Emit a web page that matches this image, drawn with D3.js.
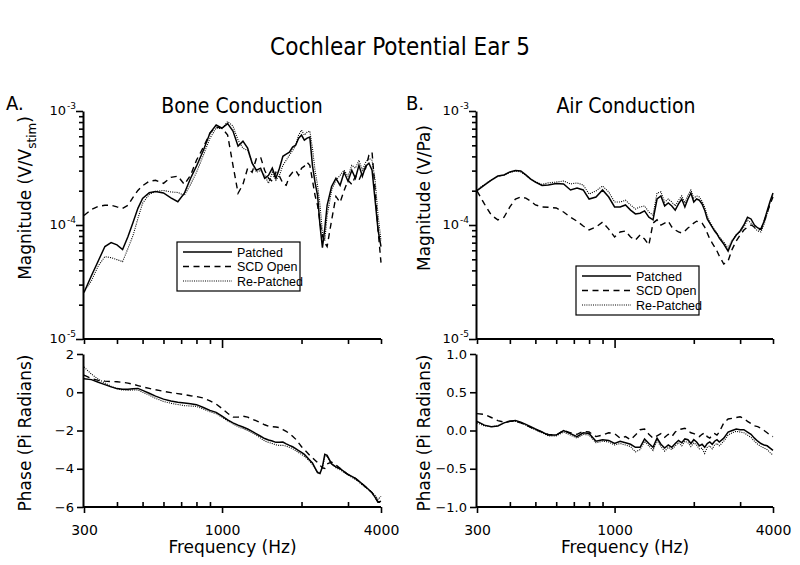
<!DOCTYPE html>
<html>
<head>
<meta charset="utf-8">
<script src="https://cdn.jsdelivr.net/npm/d3@7"></script>
<style>
  body { margin: 0; background: #fff; }
  svg { display: block; }
  .tick-lbl { font-family: "DejaVu Sans", sans-serif; font-size: 13px; fill: #000; }
  .ax-title { font-family: "DejaVu Sans", sans-serif; font-size: 17px; fill: #000; }
  .head { font-family: "Liberation Sans Narrow", "DejaVu Sans Condensed", sans-serif; fill: #000; }
  .leg { font-family: "Liberation Sans", sans-serif; font-size: 12.5px; fill: #000; }
</style>
</head>
<body>
<svg id="chart" width="800" height="565"></svg>
<script>
// frequency grid (Hz), shared by every series
const freqs = [300, 320, 340, 360, 380, 400, 420, 440, 460, 480, 500, 530, 560, 600, 640, 680, 720, 760, 800, 850,
  900, 950, 1000, 1050, 1100, 1150, 1200, 1250, 1300, 1350, 1400, 1450, 1500, 1550, 1600, 1650, 1700, 1750, 1800, 1850,
  1900, 1950, 2000, 2050, 2100, 2150, 2200, 2250, 2300, 2350, 2400, 2450, 2500, 2600, 2700, 2800, 2900, 3000, 3100, 3200,
  3300, 3400, 3500, 3600, 3700, 3800, 3900, 4000];

// A. bone conduction, magnitude (V/Vstim)
const bonePatchedMag = [2.56e-5, 3.59e-5, 4.86e-5, 6.47e-5, 7.0e-5, 6.7e-5, 6.1e-5, 7.9e-5, 1.05e-4, 1.40e-4, 1.71e-4, 1.92e-4, 1.97e-4, 1.91e-4, 1.73e-4, 1.60e-4, 1.90e-4, 2.57e-4, 3.28e-4, 4.53e-4,
  6.40e-4, 7.53e-4, 7.08e-4, 7.76e-4, 6.67e-4, 4.92e-4, 5.44e-4, 4.72e-4, 3.48e-4, 3.02e-4, 3.15e-4, 2.57e-4, 2.73e-4, 3.15e-4, 2.57e-4, 3.15e-4, 4.01e-4, 4.18e-4, 4.35e-4, 4.82e-4,
  5.01e-4, 5.78e-4, 6.15e-4, 5.55e-4, 5.78e-4, 5.9e-4, 3.34e-4, 2.37e-4, 1.82e-4, 9.9e-5, 6.34e-5, 9.3e-5, 1.49e-4, 2.18e-4, 2.57e-4, 2.23e-4, 2.9e-4, 2.42e-4, 3.02e-4, 2.57e-4,
  3.34e-4, 2.68e-4, 3.28e-4, 3.48e-4, 3.02e-4, 1.64e-4, 8.95e-5, 6.47e-5];
const boneOpenMag = [1.21e-4, 1.37e-4, 1.46e-4, 1.49e-4, 1.49e-4, 1.44e-4, 1.40e-4, 1.49e-4, 1.75e-4, 2.01e-4, 2.21e-4, 2.42e-4, 2.47e-4, 2.32e-4, 2.62e-4, 2.68e-4, 2.27e-4, 2.73e-4, 3.70e-4, 4.82e-4,
  6.4e-4, 7.23e-4, 7.08e-4, 6.15e-4, 3.34e-4, 1.90e-4, 2.27e-4, 3.15e-4, 2.9e-4, 3.85e-4, 3.93e-4, 3.02e-4, 2.57e-4, 2.42e-4, 2.9e-4, 2.68e-4, 2.32e-4, 2.23e-4, 2.68e-4, 2.9e-4,
  3.02e-4, 2.73e-4, 3.15e-4, 3.28e-4, 3.55e-4, 3.34e-4, 2.47e-4, 1.82e-4, 1.49e-4, 1.05e-4, 8.08e-5, 7.0e-5, 6.47e-5, 1.10e-4, 1.78e-4, 1.58e-4, 2.01e-4, 2.47e-4, 2.27e-4, 2.68e-4,
  2.47e-4, 2.9e-4, 3.15e-4, 4.1e-4, 4.35e-4, 2.01e-4, 8.95e-5, 4.68e-5];
const boneRepatchedMag = [2.6e-5, 3.24e-5, 4.4e-5, 5.28e-5, 5.17e-5, 4.97e-5, 4.77e-5, 6.21e-5, 8.08e-5, 1.14e-4, 1.55e-4, 1.86e-4, 1.97e-4, 2.01e-4, 1.95e-4, 1.93e-4, 1.82e-4, 2.27e-4, 2.9e-4, 4.1e-4,
  5.78e-4, 7.08e-4, 7.0e-4, 8.08e-4, 7.38e-4, 5.55e-4, 4.72e-4, 4.5e-4, 3.55e-4, 2.9e-4, 3.02e-4, 2.73e-4, 2.32e-4, 2.9e-4, 2.47e-4, 2.73e-4, 3.34e-4, 3.7e-4, 4.1e-4, 4.5e-4,
  5.0e-4, 6.15e-4, 6.8e-4, 6.15e-4, 6.53e-4, 6.67e-4, 4.72e-4, 3.02e-4, 2.23e-4, 1.49e-4, 8.59e-5, 7.3e-5, 1.21e-4, 2.01e-4, 2.47e-4, 2.73e-4, 3.02e-4, 2.68e-4, 3.34e-4, 3.15e-4,
  3.7e-4, 3.02e-4, 3.55e-4, 3.85e-4, 3.7e-4, 2.47e-4, 1.21e-4, 7.3e-5];

// A. bone conduction, phase (pi radians)
const bonePatchedPh = [0.70, 0.66, 0.52, 0.40, 0.28, 0.19, 0.16, 0.16, 0.18, 0.20, 0.10, -0.05, -0.20, -0.36, -0.46, -0.52, -0.56, -0.60, -0.65, -0.80,
  -0.95, -1.05, -1.25, -1.45, -1.60, -1.72, -1.82, -1.92, -2.05, -2.18, -2.30, -2.42, -2.50, -2.55, -2.62, -2.62, -2.60, -2.70, -2.78, -2.85,
  -2.95, -3.05, -3.15, -3.25, -3.40, -3.55, -3.70, -3.95, -4.20, -4.25, -3.90, -3.25, -3.30, -3.75, -3.90, -4.00, -4.15, -4.30, -4.40, -4.50,
  -4.65, -4.80, -4.95, -5.10, -5.25, -5.50, -5.75, -5.70];
const boneOpenPh = [0.90, 0.72, 0.62, 0.58, 0.56, 0.55, 0.52, 0.48, 0.42, 0.35, 0.28, 0.20, 0.13, 0.05, -0.02, -0.07, -0.12, -0.18, -0.22, -0.30,
  -0.45, -0.62, -0.85, -1.10, -1.30, -1.30, -1.25, -1.30, -1.40, -1.50, -1.60, -1.70, -1.78, -1.80, -1.82, -1.85, -1.95, -2.05, -2.15, -2.30,
  -2.45, -2.65, -2.85, -3.00, -3.15, -3.30, -3.42, -3.55, -3.68, -3.82, -3.95, -3.98, -3.75, -3.65, -3.80, -3.98, -4.15, -4.30, -4.40, -4.50,
  -4.65, -4.80, -4.95, -5.10, -5.25, -5.50, -5.75, -5.75];
const boneRepatchedPh = [1.32, 0.95, 0.68, 0.48, 0.32, 0.18, 0.12, 0.10, 0.12, 0.12, 0.00, -0.15, -0.32, -0.48, -0.58, -0.64, -0.70, -0.72, -0.74, -0.88,
  -1.02, -1.12, -1.30, -1.50, -1.65, -1.80, -1.90, -2.00, -2.12, -2.25, -2.40, -2.55, -2.62, -2.68, -2.75, -2.78, -2.78, -2.82, -2.88, -2.95,
  -3.05, -3.15, -3.25, -3.35, -3.48, -3.62, -3.78, -4.00, -4.18, -4.20, -3.95, -3.35, -3.35, -3.75, -3.95, -4.05, -4.20, -4.32, -4.45, -4.55,
  -4.70, -4.85, -4.98, -5.12, -5.25, -5.40, -5.60, -5.45];

// B. air conduction, magnitude (V/Pa)
const airPatchedMag = [2.0e-4, 2.24e-4, 2.48e-4, 2.69e-4, 2.75e-4, 2.92e-4, 3.01e-4, 2.98e-4, 2.75e-4, 2.53e-4, 2.38e-4, 2.22e-4, 2.24e-4, 2.31e-4, 2.29e-4, 2.03e-4, 2.11e-4, 2.03e-4, 1.69e-4, 1.76e-4,
  2.03e-4, 1.76e-4, 1.44e-4, 1.44e-4, 1.50e-4, 1.35e-4, 1.25e-4, 1.27e-4, 1.33e-4, 1.17e-4, 1.11e-4, 1.69e-4, 1.80e-4, 1.47e-4, 1.56e-4, 1.47e-4, 1.35e-4, 1.53e-4, 1.69e-4, 1.44e-4,
  1.69e-4, 1.91e-4, 1.59e-4, 1.69e-4, 1.65e-4, 1.53e-4, 1.35e-4, 1.13e-4, 1.04e-4, 9.6e-5, 8.86e-5, 8.34e-5, 7.69e-5, 6.81e-5, 5.91e-5, 7.24e-5, 8.17e-5, 8.86e-5, 1.0e-4, 1.17e-4,
  1.13e-4, 1.0e-4, 9.42e-5, 9.2e-5, 1.08e-4, 1.33e-4, 1.62e-4, 1.91e-4];
const airOpenMag = [1.99e-4, 1.53e-4, 1.22e-4, 1.11e-4, 1.17e-4, 1.44e-4, 1.69e-4, 1.76e-4, 1.72e-4, 1.62e-4, 1.50e-4, 1.44e-4, 1.43e-4, 1.41e-4, 1.30e-4, 1.17e-4, 1.08e-4, 9.8e-5, 9.04e-5, 9.6e-5,
  1.06e-4, 9.2e-5, 7.85e-5, 8.69e-5, 8.86e-5, 7.85e-5, 7.38e-5, 8.17e-5, 7.53e-5, 6.68e-5, 1.04e-4, 1.11e-4, 1.0e-4, 1.04e-4, 1.08e-4, 9.6e-5, 9.04e-5, 8.69e-5, 8.51e-5, 8.86e-5,
  9.42e-5, 9.8e-5, 1.04e-4, 1.08e-4, 1.06e-4, 1.04e-4, 9.6e-5, 8.51e-5, 7.53e-5, 6.95e-5, 6.41e-5, 5.91e-5, 5.35e-5, 4.55e-5, 4.83e-5, 6.15e-5, 7.24e-5, 8.17e-5, 9.04e-5, 9.6e-5,
  1.0e-4, 9.6e-5, 9.04e-5, 9.2e-5, 1.08e-4, 1.27e-4, 1.53e-4, 1.76e-4];
const airRepatchedMag = [2.03e-4, 2.27e-4, 2.48e-4, 2.66e-4, 2.75e-4, 2.89e-4, 2.98e-4, 2.92e-4, 2.72e-4, 2.53e-4, 2.41e-4, 2.27e-4, 2.34e-4, 2.38e-4, 2.43e-4, 2.29e-4, 2.34e-4, 2.24e-4, 1.87e-4, 1.99e-4,
  2.2e-4, 1.95e-4, 1.59e-4, 1.59e-4, 1.65e-4, 1.50e-4, 1.38e-4, 1.44e-4, 1.47e-4, 1.30e-4, 1.22e-4, 1.91e-4, 1.95e-4, 1.59e-4, 1.69e-4, 1.59e-4, 1.47e-4, 1.65e-4, 1.80e-4, 1.56e-4,
  1.83e-4, 2.03e-4, 1.72e-4, 1.80e-4, 1.76e-4, 1.62e-4, 1.44e-4, 1.2e-4, 1.08e-4, 9.8e-5, 9.04e-5, 8.51e-5, 7.85e-5, 7.1e-5, 6.28e-5, 7.38e-5, 8.17e-5, 8.69e-5, 9.6e-5, 1.11e-4,
  1.04e-4, 9.42e-5, 8.86e-5, 8.69e-5, 1.02e-4, 1.25e-4, 1.56e-4, 1.83e-4];

// B. air conduction, phase (pi radians)
const airPatchedPh = [0.12, 0.07, 0.05, 0.06, 0.10, 0.12, 0.13, 0.11, 0.08, 0.05, 0.02, -0.02, -0.06, -0.06, 0.00, -0.04, -0.08, -0.03, -0.04, -0.14,
  -0.12, -0.13, -0.17, -0.14, -0.16, -0.18, -0.22, -0.22, -0.11, -0.17, -0.22, -0.10, -0.18, -0.23, -0.19, -0.22, -0.17, -0.13, -0.16, -0.11,
  -0.12, -0.17, -0.12, -0.15, -0.20, -0.18, -0.22, -0.17, -0.15, -0.18, -0.14, -0.12, -0.15, -0.10, -0.02, 0.00, 0.02, 0.01, 0.01, -0.02,
  -0.05, -0.10, -0.14, -0.17, -0.19, -0.20, -0.23, -0.26];
const airOpenPh = [0.22, 0.21, 0.17, 0.13, 0.11, 0.12, 0.12, 0.10, 0.07, 0.04, 0.01, -0.02, -0.05, -0.06, 0.00, -0.03, -0.05, -0.01, -0.02, -0.08,
  -0.06, -0.03, -0.04, -0.10, -0.08, -0.12, -0.06, 0.01, 0.02, -0.05, -0.10, -0.07, -0.04, -0.09, -0.05, -0.08, -0.02, 0.01, 0.02, 0.03,
  0.00, -0.03, -0.04, -0.06, -0.08, -0.05, -0.03, -0.08, -0.10, -0.06, -0.04, -0.06, -0.02, 0.10, 0.15, 0.16, 0.17, 0.18, 0.16, 0.12,
  0.09, 0.06, 0.05, 0.03, 0.00, -0.03, -0.06, -0.08];
const airRepatchedPh = [0.10, 0.06, 0.05, 0.06, 0.10, 0.12, 0.12, 0.10, 0.07, 0.04, 0.01, -0.03, -0.07, -0.07, -0.02, -0.06, -0.10, -0.05, -0.06, -0.16,
  -0.14, -0.15, -0.19, -0.17, -0.19, -0.21, -0.28, -0.25, -0.14, -0.20, -0.26, -0.13, -0.21, -0.27, -0.22, -0.25, -0.20, -0.16, -0.20, -0.14,
  -0.16, -0.21, -0.16, -0.19, -0.24, -0.23, -0.30, -0.22, -0.20, -0.24, -0.19, -0.17, -0.20, -0.14, -0.06, -0.03, -0.01, -0.02, -0.03, -0.06,
  -0.09, -0.14, -0.18, -0.21, -0.23, -0.25, -0.29, -0.32];

const seriesNames = ["Patched", "SCD Open", "Re-Patched"];
const dashes = [null, "6,4.5", "1,1.2"];
const widths = [1.5, 1.4, 1.1];

const freqTicksMajor = [300, 1000, 4000];
const freqTicksMinor = [400, 500, 600, 700, 800, 900, 2000, 3000];
const magDecades = [1e-3, 1e-4, 1e-5];
const boneDeg = [2, 0, -2, -4, -6];
const airDeg = [1.0, 0.5, 0.0, -0.5, -1.0];

const svg = d3.select("#chart");

svg.append("text").attr("class", "head").attr("x", 400).attr("y", 55)
  .attr("text-anchor", "middle").style("font-size", "24px").text("Cochlear Potential Ear 5");

const magTop = 111, magBot = 339, phTop = 354, phBot = 507;

function drawSide(o) {
  const g = svg.append("g");
  const x = d3.scaleLog().domain([300, 4000]).range([o.x0, o.x1]);
  const yM = d3.scaleLog().domain([1e-5, 1e-3]).range([magBot, magTop]);
  const yP = d3.scaleLinear().domain(o.phDomain).range([phBot, phTop]);
  const ax = o.x0 - 1;

  g.append("text").attr("class", "head").attr("x", o.letterX).attr("y", 110)
    .style("font-size", "20px").text(o.letter);
  g.append("text").attr("class", "head").attr("x", o.subX).attr("y", 113)
    .attr("text-anchor", "middle").style("font-size", "21px").text(o.sub);

  // magnitude y axis
  const minor = [];
  [1e-5, 1e-4].forEach(d => { for (let k = 2; k <= 9; k++) minor.push(d * k); });
  g.append("g").attr("transform", `translate(${ax},0)`)
    .call(d3.axisLeft(yM).tickValues(minor).tickSize(4).tickFormat(""))
    .call(s => s.select(".domain").remove());
  g.append("g").attr("transform", `translate(${ax},0)`)
    .call(d3.axisLeft(yM).tickValues(magDecades).tickSize(7).tickSizeOuter(0).tickFormat(""))
    .call(s => s.selectAll("line,path").attr("stroke-width", 2));
  magDecades.forEach(d => {
    g.append("text").attr("class", "tick-lbl").attr("x", ax - 17).attr("y", yM(d) + 4)
      .attr("text-anchor", "end").text("10");
    g.append("text").attr("class", "tick-lbl").style("font-size", "9px")
      .attr("x", ax - 16).attr("y", yM(d) - 2).text(String(Math.round(Math.log10(d))));
  });
  // magnitude bottom axis (no labels)
  g.append("g").attr("transform", `translate(0,${magBot})`)
    .call(d3.axisBottom(x).tickValues(freqTicksMinor.concat([300, 4000])).tickSize(5).tickSizeOuter(0).tickFormat(""))
    .call(s => s.select(".domain").attr("d", `M${ax},0H${o.x1}`));
  g.append("g").attr("transform", `translate(0,${magBot})`)
    .call(d3.axisBottom(x).tickValues([1000]).tickSize(9).tickFormat(""))
    .call(s => s.select(".domain").remove());

  // phase y axis
  g.append("g").attr("transform", `translate(${ax},0)`)
    .call(d3.axisLeft(yP).tickValues(o.phTicks).tickSize(6).tickSizeOuter(0).tickFormat(o.phFmt))
    .call(s => s.selectAll("text").attr("class", "tick-lbl").attr("x", -9).style("font-size", null).style("font-family", null));
  // phase bottom axis
  g.append("g").attr("transform", `translate(0,${phBot})`)
    .call(d3.axisTop(x).tickValues(freqTicksMinor).tickSize(5).tickFormat(""))
    .call(s => s.select(".domain").attr("d", `M${ax},0H${o.x1}`));
  g.append("g").attr("transform", `translate(0,${phBot})`)
    .call(d3.axisBottom(x).tickValues(freqTicksMajor).tickSize(6).tickFormat(d3.format("d")))
    .call(s => s.select(".domain").remove())
    .call(s => s.selectAll("text").attr("class", "tick-lbl").attr("y", 18).style("font-size", "14px").style("font-family", null));

  g.selectAll(".domain, .tick line").attr("stroke", "#000");
  g.selectAll(".domain").attr("stroke-width", 2);
  g.selectAll(".tick line").attr("stroke-width", 1.6);

  // titles
  g.append("text").attr("class", "ax-title").attr("x", (o.x0 + o.x1) / 2).attr("y", 553)
    .attr("text-anchor", "middle").text("Frequency (Hz)");
  const mt = g.append("text").attr("class", "ax-title").attr("text-anchor", "middle")
    .attr("transform", `translate(${o.titleX},198) rotate(-90)`);
  mt.append("tspan").text(o.magLabel);
  if (o.magSub) {
    mt.append("tspan").attr("dy", 5).style("font-size", "12px").text(o.magSub);
    mt.append("tspan").attr("dy", -5).text(")");
  }
  g.append("text").attr("class", "ax-title").attr("text-anchor", "middle")
    .attr("transform", `translate(${o.titleX},433) rotate(-90)`).text("Phase (Pi Radians)");

  // data
  const lineM = d3.line().x(d => x(d[0])).y(d => yM(d[1]));
  const lineP = d3.line().x(d => x(d[0])).y(d => yP(d[1]));
  o.mags.forEach((vals, i) => {
    g.append("path").datum(d3.zip(freqs, vals)).attr("d", lineM)
      .attr("fill", "none").attr("stroke", "#000").attr("stroke-width", widths[i])
      .attr("stroke-dasharray", dashes[i]);
  });
  o.phases.forEach((vals, i) => {
    g.append("path").datum(d3.zip(freqs, vals)).attr("d", lineP)
      .attr("fill", "none").attr("stroke", "#000").attr("stroke-width", widths[i])
      .attr("stroke-dasharray", dashes[i]);
  });

  // legend
  const lg = g.append("g").attr("transform", `translate(${o.legX},${o.legY})`);
  lg.append("rect").attr("width", 123).attr("height", 49).attr("fill", "#fff")
    .attr("stroke", "#000").attr("stroke-width", 1.2);
  seriesNames.forEach((n, i) => {
    const yy = 10 + i * 14.5;
    lg.append("line").attr("x1", 6).attr("x2", 55).attr("y1", yy).attr("y2", yy)
      .attr("stroke", "#000").attr("stroke-width", widths[i]).attr("stroke-dasharray", dashes[i]);
    lg.append("text").attr("class", "leg").attr("x", 60).attr("y", yy + 4.5).text(n);
  });
}

drawSide({
  x0: 84, x1: 381, letter: "A.", letterX: 6, sub: "Bone Conduction", subX: 242,
  phDomain: [-6, 2], phTicks: boneDeg, phFmt: d3.format("d"),
  titleX: 31, magLabel: "Magnitude (V/V", magSub: "stim",
  mags: [bonePatchedMag, boneOpenMag, boneRepatchedMag],
  phases: [bonePatchedPh, boneOpenPh, boneRepatchedPh],
  legX: 177, legY: 242
});
drawSide({
  x0: 477, x1: 773, letter: "B.", letterX: 406, sub: "Air Conduction", subX: 626,
  phDomain: [-1, 1], phTicks: airDeg, phFmt: d3.format(".1f"),
  titleX: 430, magLabel: "Magnitude (V/Pa)", magSub: null,
  mags: [airPatchedMag, airOpenMag, airRepatchedMag],
  phases: [airPatchedPh, airOpenPh, airRepatchedPh],
  legX: 576, legY: 266
});
</script>
</body>
</html>
